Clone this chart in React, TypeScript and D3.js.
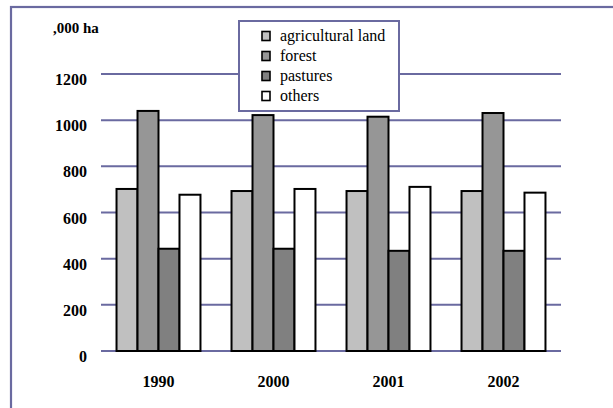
import React from "react";
import * as d3 from "d3";

const categories = ["1990", "2000", "2001", "2002"];
const seriesNames = ["agricultural land", "forest", "pastures", "others"];
const agriculturalLand = [702, 693, 693, 693];
const forest = [1040, 1022, 1015, 1031];
const pastures = [443, 443, 434, 434];
const others = [677, 702, 711, 686];
const yTicks = [0, 200, 400, 600, 800, 1000, 1200];
const unitLabel = ",000 ha";

const seriesValues = [agriculturalLand, forest, pastures, others];
const fills = ["#C0C0C0", "#969696", "#808080", "#FFFFFF"];
const frameColor = "#6A6AA0";
const font = '"Liberation Serif", "Times New Roman", Times, "DejaVu Serif", serif';

export default function App() {
  const W = 613, H = 408;
  const x0 = d3.scaleBand<string>().domain(categories).range([101, 561]).paddingInner(0.27).paddingOuter(0.135);
  const x1 = d3.scaleBand<string>().domain(seriesNames).range([0, x0.bandwidth()]).padding(0);
  const y = d3.scaleLinear().domain([0, 1200]).range([351, 74]);
  const ts: React.CSSProperties = { fontFamily: font };

  return (
    <svg width={W} height={H} style={{ position: "absolute", left: 0, top: 0, background: "#fff", fontFamily: font }}>
      <rect x={0} y={0} width={W} height={H} fill="#fff" />
      <rect x={11} y={7} width={W + 20} height={H + 20} fill="none" stroke={frameColor} strokeWidth={2.2} />
      {yTicks.map((t) => (
        <line key={t} x1={101} x2={561} y1={y(t)} y2={y(t)} stroke={frameColor} strokeWidth={2} />
      ))}
      {yTicks.map((t) => (
        <text key={"l" + t} x={87} y={y(t) + 11} textAnchor="end" fontSize={16} fontWeight="bold" fill="#000" style={ts}>
          {t}
        </text>
      ))}
      <text x={53} y={33} fontSize={15} fontWeight="bold" fill="#000" style={ts}>{unitLabel}</text>
      {categories.map((c, ci) => (
        <g key={c} transform={`translate(${x0(c)},0)`}>
          {seriesNames.map((s, si) => (
            <rect
              key={s}
              x={x1(s)}
              y={y(seriesValues[si][ci])}
              width={x1.bandwidth()}
              height={y(0) - y(seriesValues[si][ci])}
              fill={fills[si]}
              stroke="#000"
              strokeWidth={2}
            />
          ))}
        </g>
      ))}
      {categories.map((c) => (
        <text key={"x" + c} x={(x0(c) as number) + x0.bandwidth() / 2} y={387} textAnchor="middle" fontSize={16} fontWeight="bold" fill="#000" style={ts}>
          {c}
        </text>
      ))}
      <rect x={239} y={21} width={160} height={90} fill="#fff" stroke={frameColor} strokeWidth={2} />
      {seriesNames.map((s, i) => (
        <g key={"lg" + s}>
          <rect x={262} y={36 + i * 20 - 4.5} width={8} height={9} fill={fills[i]} stroke="#000" strokeWidth={1.6} />
          <text x={280} y={36 + i * 20 + 5} fontSize={16} fill="#000" style={ts}>{s}</text>
        </g>
      ))}
    </svg>
  );
}
